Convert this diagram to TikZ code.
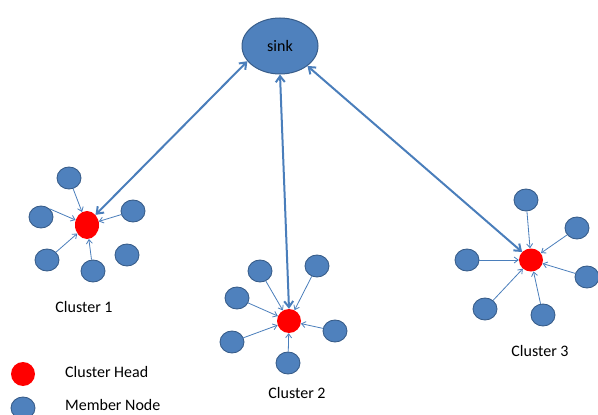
\documentclass[tikz,border=0pt]{standalone}
\usepackage{fontspec}
\setmainfont{Carlito}
\usetikzlibrary{arrows.meta,shapes.geometric}
\definecolor{nodeblue}{RGB}{79,129,189}
\definecolor{edgeblue}{RGB}{56,93,138}
\definecolor{arrowblue}{RGB}{74,126,187}
\definecolor{headred}{RGB}{255,0,0}
\tikzset{
  member/.style={ellipse,draw=edgeblue,fill=nodeblue,line width=0.9pt,minimum width=24pt,minimum height=22pt,inner sep=0pt},
  head/.style={ellipse,fill=headred,minimum width=24pt,minimum height=24pt,inner sep=0pt},
  sinknode/.style={ellipse,draw=edgeblue,fill=nodeblue,line width=1pt,minimum width=76pt,minimum height=56pt,inner sep=0pt,font=\fontsize{16}{19}\selectfont},
  link/.style={draw=arrowblue,line width=0.8pt,-{Straight Barb[length=4pt,width=6pt]}},
  uplink/.style={draw=arrowblue,line width=2pt,{Straight Barb[length=6pt,width=9pt]}-{Straight Barb[length=6pt,width=9pt]}},
  lbl/.style={font=\fontsize{16}{19}\selectfont,inner sep=0pt}
}
\begin{document}
\begin{tikzpicture}[x=1pt,y=-1pt]
\useasboundingbox (0,0) rectangle (598,415);
% sink
\node[sinknode] (sink) at (280,46) {sink};
% cluster 1
\node[head,minimum height=28pt] (h1) at (87,225) {};
\node[member] (m11) at (69,178) {};
\node[member] (m12) at (41,217) {};
\node[member] (m13) at (133,211) {};
\node[member] (m14) at (47,260) {};
\node[member] (m15) at (93,271) {};
\node[member] (m16) at (127,255) {};
\draw[link] (m11) -- (h1);
\draw[link] (m12.north east) -- (h1);
\draw[link] (m13) -- (h1);
\draw[link] (m14) -- (h1);
\draw[link] (m15) -- (h1);
% cluster 2
\node[head] (h2) at (289,321) {};
\node[member] (m21) at (260,271) {};
\node[member] (m22) at (317,266) {};
\node[member] (m23) at (237,298) {};
\node[member] (m24) at (232,342) {};
\node[member] (m25) at (335,331) {};
\node[member] (m26) at (288,363) {};
\foreach \m in {m21,m22,m23,m24,m25,m26} \draw[link] (\m) -- (h2);
% cluster 3
\node[head,minimum height=23pt] (h3) at (531,260) {};
\node[member] (m31) at (526,200) {};
\node[member] (m32) at (577,228) {};
\node[member] (m33) at (467,260) {};
\node[member] (m34) at (587,277) {};
\node[member] (m35) at (485,309) {};
\node[member] (m36) at (543,315) {};
\foreach \m in {m31,m32,m33,m34,m35,m36} \draw[link] (\m) -- (h3);
% sink links
\draw[uplink] (sink.205) -- (h1.50);
\draw[uplink] (sink.270) -- (h2.north);
\draw[uplink] (sink.324) -- (h3.138);
% labels
\node[lbl] (c1) at (84,307) {Cluster 1};
\node[lbl] (c2) at (297,393) {Cluster 2};
\node[lbl] (c3) at (540,351) {Cluster 3};
% legend
\node[head] (lh) at (23,374) {};
\node[member] (lm) at (23,408) {};
\node[lbl,anchor=west] (lht) at (65,372) {Cluster Head};
\node[lbl,anchor=west] (lmt) at (65,405) {Member Node};
\end{tikzpicture}
\end{document}
